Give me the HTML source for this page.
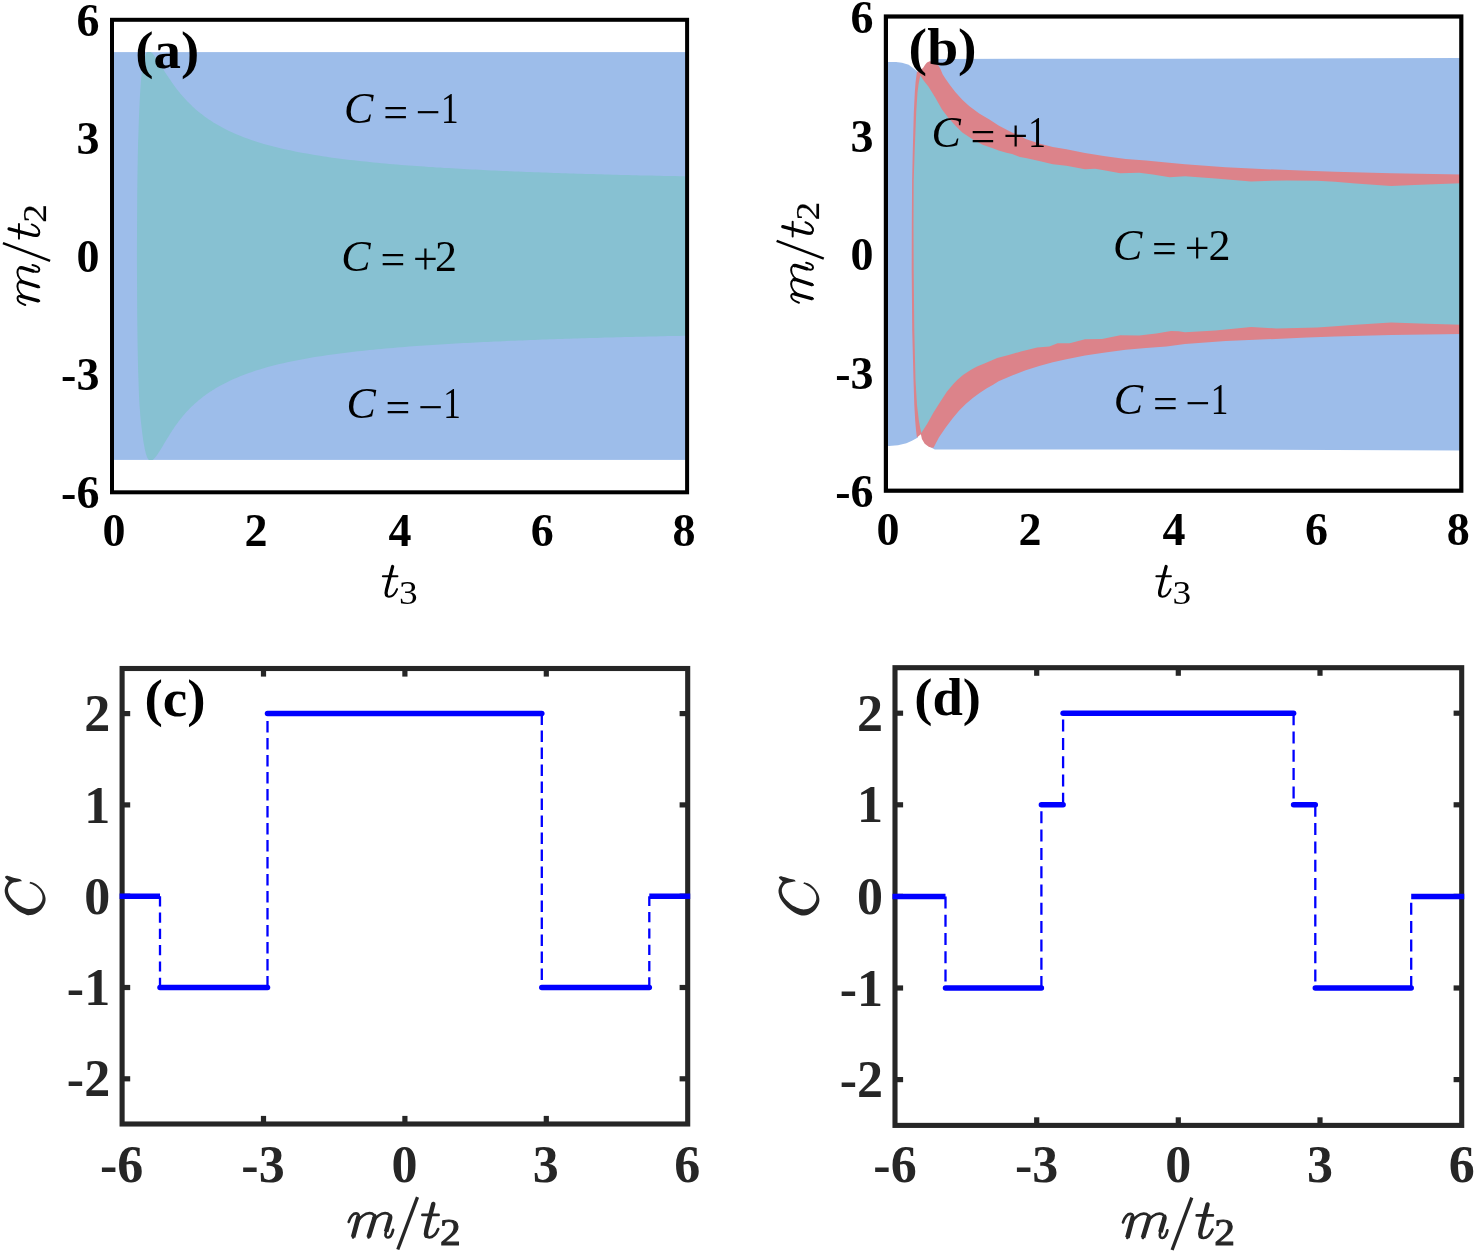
<!DOCTYPE html>
<html><head><meta charset="utf-8"><title>Figure</title>
<style>
html,body{margin:0;padding:0;background:#fff;}
body{width:1475px;height:1254px;overflow:hidden;}
svg{display:block;will-change:transform;filter:blur(0.45px);}
svg text{font-family:"Liberation Serif",serif;}
</style></head><body>
<svg width="1475" height="1254" viewBox="0 0 1475 1254">
<rect width="1475" height="1254" fill="#fff"/>
<rect x="112.0" y="52.1" width="575.1" height="407.8" fill="#9dbdea"/>
<polygon points="136.9,256.1 137.2,195.5 137.5,172.2 137.8,155.4 138.1,142.1 138.5,131.1 138.8,121.8 139.1,113.8 139.4,106.8 139.7,100.6 140.0,95.1 140.3,90.3 140.6,86.0 140.9,82.1 141.2,78.6 141.5,75.5 141.8,72.7 142.1,70.1 142.4,67.8 142.7,65.8 143.1,63.9 143.4,62.3 143.7,60.8 144.0,59.5 144.3,58.3 144.6,57.2 144.9,56.3 145.2,55.4 145.5,54.7 145.8,54.1 146.1,53.5 146.4,53.0 146.7,52.6 147.0,52.3 147.3,52.1 147.7,52.1 148.0,52.1 148.3,52.1 148.6,52.1 148.9,52.1 149.8,52.1 150.7,52.1 151.6,52.7 152.5,53.6 153.4,54.6 154.3,55.7 155.2,56.9 156.1,58.2 157.1,59.5 158.0,60.9 158.9,62.3 159.8,63.7 160.7,65.2 161.6,66.6 162.5,68.1 163.4,69.5 164.3,71.0 165.2,72.4 166.1,73.8 167.0,75.2 168.0,76.6 168.9,78.0 169.8,79.3 170.7,80.6 171.6,82.0 172.5,83.2 173.4,84.5 174.3,85.8 175.2,87.0 176.1,88.2 177.0,89.4 177.9,90.5 178.9,91.7 179.8,92.8 180.7,93.9 181.6,94.9 182.5,96.0 183.4,97.0 184.3,98.0 185.2,99.0 186.1,100.0 187.0,101.0 187.9,101.9 188.9,102.8 189.8,103.8 190.7,104.6 191.6,105.5 192.5,106.4 193.4,107.2 194.3,108.0 195.2,108.9 196.1,109.7 197.0,110.4 197.9,111.2 198.8,112.0 199.8,112.7 200.7,113.4 201.6,114.1 202.5,114.8 203.4,115.5 204.3,116.2 205.2,116.9 206.1,117.5 207.0,118.2 207.9,118.8 208.8,119.4 209.7,120.0 210.7,120.6 211.6,121.2 212.5,121.8 213.4,122.4 214.3,122.9 215.2,123.5 216.1,124.0 217.0,124.6 217.9,125.1 218.8,125.6 219.7,126.1 220.6,126.6 224.6,128.7 228.5,130.7 232.4,132.5 236.3,134.2 240.2,135.8 244.2,137.4 248.1,138.8 252.0,140.2 255.9,141.5 259.8,142.7 263.8,143.9 267.7,145.0 271.6,146.0 275.5,147.0 279.4,148.0 283.4,148.9 287.3,149.8 291.2,150.6 295.1,151.4 299.0,152.2 303.0,152.9 306.9,153.6 310.8,154.3 314.7,155.0 318.6,155.6 322.6,156.2 326.5,156.8 330.4,157.4 334.3,157.9 338.2,158.4 342.2,158.9 346.1,159.4 350.0,159.9 353.9,160.3 357.8,160.8 361.8,161.2 365.7,161.6 369.6,162.0 373.5,162.4 377.4,162.8 381.4,163.2 385.3,163.5 389.2,163.9 393.1,164.2 397.0,164.5 401.0,164.9 404.9,165.2 408.8,165.5 412.7,165.8 416.6,166.1 420.6,166.3 424.5,166.6 428.4,166.9 432.3,167.1 436.2,167.4 440.2,167.6 444.1,167.9 448.0,168.1 451.9,168.3 455.8,168.6 459.8,168.8 463.7,169.0 467.6,169.2 471.5,169.4 475.4,169.6 479.4,169.8 483.3,170.0 487.2,170.2 491.1,170.4 495.0,170.6 498.9,170.7 502.9,170.9 506.8,171.1 510.7,171.3 514.6,171.4 518.5,171.6 522.5,171.7 526.4,171.9 530.3,172.0 534.2,172.2 538.1,172.3 542.1,172.5 546.0,172.6 549.9,172.8 553.8,172.9 557.7,173.0 561.7,173.2 565.6,173.3 569.5,173.4 573.4,173.5 577.3,173.7 581.3,173.8 585.2,173.9 589.1,174.0 593.0,174.1 596.9,174.2 600.9,174.3 604.8,174.5 608.7,174.6 612.6,174.7 616.5,174.8 620.5,174.9 624.4,175.0 628.3,175.1 632.2,175.2 636.1,175.3 640.1,175.4 644.0,175.4 647.9,175.5 651.8,175.6 655.7,175.7 659.7,175.8 663.6,175.9 667.5,176.0 671.4,176.1 675.3,176.1 679.3,176.2 683.2,176.3 687.1,176.4 687.1,335.7 683.2,335.8 679.3,335.9 675.3,336.0 671.4,336.0 667.5,336.1 663.6,336.2 659.7,336.3 655.7,336.4 651.8,336.5 647.9,336.6 644.0,336.7 640.1,336.7 636.1,336.8 632.2,336.9 628.3,337.0 624.4,337.1 620.5,337.2 616.5,337.3 612.6,337.4 608.7,337.5 604.8,337.6 600.9,337.8 596.9,337.9 593.0,338.0 589.1,338.1 585.2,338.2 581.3,338.3 577.3,338.4 573.4,338.6 569.5,338.7 565.6,338.8 561.7,338.9 557.7,339.1 553.8,339.2 549.9,339.3 546.0,339.5 542.1,339.6 538.1,339.8 534.2,339.9 530.3,340.1 526.4,340.2 522.5,340.4 518.5,340.5 514.6,340.7 510.7,340.8 506.8,341.0 502.9,341.2 498.9,341.4 495.0,341.5 491.1,341.7 487.2,341.9 483.3,342.1 479.4,342.3 475.4,342.5 471.5,342.7 467.6,342.9 463.7,343.1 459.8,343.3 455.8,343.5 451.9,343.8 448.0,344.0 444.1,344.2 440.2,344.5 436.2,344.7 432.3,345.0 428.4,345.2 424.5,345.5 420.6,345.8 416.6,346.0 412.7,346.3 408.8,346.6 404.9,346.9 401.0,347.2 397.0,347.6 393.1,347.9 389.2,348.2 385.3,348.6 381.4,348.9 377.4,349.3 373.5,349.7 369.6,350.1 365.7,350.5 361.8,350.9 357.8,351.3 353.9,351.8 350.0,352.2 346.1,352.7 342.2,353.2 338.2,353.7 334.3,354.2 330.4,354.7 326.5,355.3 322.6,355.9 318.6,356.5 314.7,357.1 310.8,357.8 306.9,358.5 303.0,359.2 299.0,359.9 295.1,360.7 291.2,361.5 287.3,362.3 283.4,363.2 279.4,364.1 275.5,365.1 271.6,366.1 267.7,367.1 263.8,368.2 259.8,369.4 255.9,370.6 252.0,371.9 248.1,373.3 244.2,374.7 240.2,376.3 236.3,377.9 232.4,379.6 228.5,381.4 224.6,383.4 220.6,385.5 219.7,386.0 218.8,386.5 217.9,387.0 217.0,387.5 216.1,388.1 215.2,388.6 214.3,389.2 213.4,389.7 212.5,390.3 211.6,390.9 210.7,391.5 209.7,392.1 208.8,392.7 207.9,393.3 207.0,393.9 206.1,394.6 205.2,395.2 204.3,395.9 203.4,396.6 202.5,397.3 201.6,398.0 200.7,398.7 199.8,399.4 198.9,400.1 198.0,400.9 197.1,401.7 196.2,402.4 195.3,403.2 194.4,404.1 193.5,404.9 192.6,405.7 191.7,406.6 190.8,407.5 189.9,408.3 189.1,409.3 188.2,410.2 187.3,411.1 186.4,412.1 185.5,413.1 184.7,414.1 183.8,415.1 182.9,416.1 182.0,417.2 181.2,418.2 180.3,419.3 179.4,420.4 178.6,421.6 177.7,422.7 176.8,423.9 176.0,425.1 175.1,426.3 174.3,427.6 173.4,428.9 172.5,430.1 171.7,431.5 170.8,432.8 170.0,434.1 169.1,435.5 168.3,436.9 167.4,438.3 166.5,439.7 165.7,441.1 164.8,442.6 163.9,444.0 163.1,445.5 162.2,446.9 161.3,448.4 160.5,449.8 159.6,451.2 158.7,452.6 157.8,453.9 156.9,455.2 156.0,456.4 155.1,457.5 154.2,458.5 153.3,459.4 152.4,460.0 151.5,460.0 150.6,460.0 150.3,460.0 150.0,460.0 149.7,460.0 149.4,460.0 149.0,460.0 148.7,459.8 148.4,459.5 148.1,459.1 147.8,458.6 147.5,458.0 147.2,457.4 146.9,456.7 146.6,455.8 146.3,454.9 145.9,453.8 145.6,452.6 145.3,451.3 144.9,449.8 144.6,448.2 144.3,446.3 143.9,444.3 143.5,442.0 143.1,439.4 142.7,436.6 142.3,433.5 141.9,430.0 141.4,426.1 140.9,421.8 140.4,417.0 140.0,411.5 139.5,405.3 139.1,398.3 138.8,390.3 138.5,381.0 138.1,370.0 137.8,356.7 137.5,339.9 137.2,316.6 136.9,256.1" fill="#87c1d2"/>
<rect x="112.0" y="19.8" width="575.1" height="472.5" fill="none" stroke="#000" stroke-width="4"/>
<polygon points="885.9,61.9 896.0,62.0 902.0,62.8 908.7,64.7 913.0,68.0 917.9,72.1 916.6,82.0 915.8,92.5 914.8,112.8 913.8,150.0 913.1,181.0 912.8,225.0 912.7,270.0 913.2,330.0 914.5,380.0 915.3,405.0 916.2,420.7 917.0,430.0 917.9,437.6 912.0,440.8 906.4,443.2 898.0,445.3 885.9,446.3" fill="#9dbdea"/>
<polygon points="937.5,58.9 1170.0,58.7 1461.3,57.9 1461.3,450.4 1170.0,449.4 934.8,449.5 931.0,447.5 931.0,70.0" fill="#9dbdea"/>
<polygon points="916.9,72.1 920.0,70.3 923.0,68.0 925.3,64.5 927.0,62.6 929.7,61.3 933.0,61.8 937.9,64.7 940.5,69.0 942.6,74.2 946.0,79.5 950.1,85.3 955.5,92.2 962.3,99.8 969.1,106.0 979.2,113.5 989.4,119.6 999.0,125.8 1012.0,132.4 1020.0,135.8 1025.7,139.0 1039.2,143.5 1052.8,146.9 1066.4,149.2 1085.0,152.9 1105.3,156.2 1125.7,158.9 1146.0,160.6 1166.4,162.6 1185.0,164.2 1225.7,167.2 1266.4,169.2 1307.0,170.8 1335.0,171.8 1391.1,173.3 1461.3,174.6 1461.3,334.0 1391.1,335.0 1335.0,336.5 1307.0,337.5 1266.4,339.3 1225.7,341.1 1185.0,344.0 1166.4,346.4 1146.0,348.1 1125.7,349.7 1105.3,352.5 1085.0,355.5 1066.4,359.2 1052.8,362.2 1039.2,365.9 1025.7,370.3 1012.1,375.4 998.6,381.2 993.1,384.7 986.4,388.5 979.6,392.9 972.8,398.0 966.0,403.7 959.2,410.5 952.5,418.6 945.7,427.5 938.9,437.6 936.0,443.0 933.5,447.8 931.0,447.6 928.7,446.8 924.7,443.7 921.9,439.0 920.9,434.2 916.9,437.6 916.9,437.6 916.0,430.0 915.2,420.7 914.3,405.0 913.5,380.0 912.2,330.0 911.7,270.0 911.8,225.0 912.1,181.0 912.8,150.0 913.8,112.8 914.8,92.5 915.6,82.0 916.9,72.1" fill="#dc838a"/>
<polygon points="920.3,75.5 924.0,81.0 928.4,86.5 935.2,97.5 942.0,109.4 948.7,118.2 955.5,125.7 962.3,132.5 972.5,139.2 982.6,144.7 992.8,148.3 998.6,150.6 1006.4,152.8 1012.1,154.0 1019.9,156.9 1025.7,158.1 1039.2,161.1 1052.8,164.2 1066.4,165.8 1085.0,169.3 1095.2,168.7 1105.3,170.4 1120.3,173.3 1139.2,172.8 1152.8,174.5 1169.7,177.2 1185.0,176.2 1215.5,178.4 1251.1,181.4 1286.7,180.4 1317.2,180.7 1335.0,181.8 1355.5,183.5 1391.1,186.0 1426.7,184.5 1461.3,183.2 1461.3,324.8 1426.7,323.8 1391.1,322.6 1355.5,324.8 1335.0,326.3 1317.2,327.4 1276.5,328.4 1251.1,327.1 1215.5,330.4 1185.0,332.3 1178.6,331.3 1171.1,331.1 1156.2,333.5 1139.2,335.5 1120.3,335.2 1102.0,338.9 1085.0,339.2 1069.7,343.2 1057.5,343.2 1049.4,346.6 1037.2,347.5 1020.9,351.4 1008.7,355.1 997.2,358.1 985.0,363.2 977.0,366.5 970.6,370.0 963.0,375.0 957.2,380.0 953.8,383.4 947.0,391.5 940.3,401.7 933.5,412.5 927.4,423.4 921.3,432.9 921.3,432.9 920.2,428.0 918.9,420.7 917.0,405.0 915.5,380.0 914.3,330.0 913.7,270.0 913.5,225.0 913.7,181.0 914.7,150.0 916.2,112.8 917.5,92.5 918.6,84.0 920.3,75.5" fill="#87c1d2"/>
<rect x="885.9" y="16.5" width="575.4" height="474.2" fill="none" stroke="#000" stroke-width="4.2"/>
<line x1="263.5" y1="668.5" x2="263.5" y2="676.6" stroke="#262626" stroke-width="5.2"/>
<line x1="263.5" y1="1124.0" x2="263.5" y2="1115.9" stroke="#262626" stroke-width="5.2"/>
<line x1="404.9" y1="668.5" x2="404.9" y2="676.6" stroke="#262626" stroke-width="5.2"/>
<line x1="404.9" y1="1124.0" x2="404.9" y2="1115.9" stroke="#262626" stroke-width="5.2"/>
<line x1="546.3" y1="668.5" x2="546.3" y2="676.6" stroke="#262626" stroke-width="5.2"/>
<line x1="546.3" y1="1124.0" x2="546.3" y2="1115.9" stroke="#262626" stroke-width="5.2"/>
<line x1="122.1" y1="1078.8" x2="130.2" y2="1078.8" stroke="#262626" stroke-width="5.2"/>
<line x1="687.7" y1="1078.8" x2="679.6" y2="1078.8" stroke="#262626" stroke-width="5.2"/>
<line x1="122.1" y1="987.5" x2="130.2" y2="987.5" stroke="#262626" stroke-width="5.2"/>
<line x1="687.7" y1="987.5" x2="679.6" y2="987.5" stroke="#262626" stroke-width="5.2"/>
<line x1="122.1" y1="896.2" x2="130.2" y2="896.2" stroke="#262626" stroke-width="5.2"/>
<line x1="687.7" y1="896.2" x2="679.6" y2="896.2" stroke="#262626" stroke-width="5.2"/>
<line x1="122.1" y1="804.9" x2="130.2" y2="804.9" stroke="#262626" stroke-width="5.2"/>
<line x1="687.7" y1="804.9" x2="679.6" y2="804.9" stroke="#262626" stroke-width="5.2"/>
<line x1="122.1" y1="713.6" x2="130.2" y2="713.6" stroke="#262626" stroke-width="5.2"/>
<line x1="687.7" y1="713.6" x2="679.6" y2="713.6" stroke="#262626" stroke-width="5.2"/>
<rect x="122.1" y="668.5" width="565.6" height="455.5" fill="none" stroke="#262626" stroke-width="5.1"/>
<line x1="160.0" y1="896.2" x2="160.0" y2="987.5" stroke="#0000ff" stroke-width="2.3" stroke-dasharray="10.2 6.1"/>
<line x1="267.5" y1="987.5" x2="267.5" y2="713.6" stroke="#0000ff" stroke-width="2.3" stroke-dasharray="11.5 5.5"/>
<line x1="541.8" y1="713.6" x2="541.8" y2="987.5" stroke="#0000ff" stroke-width="2.3" stroke-dasharray="11.5 5.5"/>
<line x1="649.3" y1="987.5" x2="649.3" y2="896.2" stroke="#0000ff" stroke-width="2.3" stroke-dasharray="10.2 6.1"/>
<line x1="119.6" y1="896.2" x2="160.0" y2="896.2" stroke="#0000ff" stroke-width="5.5" stroke-linecap="butt"/>
<line x1="160.0" y1="987.5" x2="267.5" y2="987.5" stroke="#0000ff" stroke-width="5.5" stroke-linecap="round"/>
<line x1="267.5" y1="713.6" x2="541.8" y2="713.6" stroke="#0000ff" stroke-width="5.5" stroke-linecap="round"/>
<line x1="541.8" y1="987.5" x2="649.3" y2="987.5" stroke="#0000ff" stroke-width="5.5" stroke-linecap="round"/>
<line x1="649.3" y1="896.2" x2="690.2" y2="896.2" stroke="#0000ff" stroke-width="5.5" stroke-linecap="butt"/>
<line x1="1036.7" y1="667.7" x2="1036.7" y2="675.8000000000001" stroke="#262626" stroke-width="5.2"/>
<line x1="1036.7" y1="1125.4" x2="1036.7" y2="1117.3000000000002" stroke="#262626" stroke-width="5.2"/>
<line x1="1178.3" y1="667.7" x2="1178.3" y2="675.8000000000001" stroke="#262626" stroke-width="5.2"/>
<line x1="1178.3" y1="1125.4" x2="1178.3" y2="1117.3000000000002" stroke="#262626" stroke-width="5.2"/>
<line x1="1320.0" y1="667.7" x2="1320.0" y2="675.8000000000001" stroke="#262626" stroke-width="5.2"/>
<line x1="1320.0" y1="1125.4" x2="1320.0" y2="1117.3000000000002" stroke="#262626" stroke-width="5.2"/>
<line x1="895.0" y1="1079.6" x2="903.1" y2="1079.6" stroke="#262626" stroke-width="5.2"/>
<line x1="1461.7" y1="1079.6" x2="1453.6000000000001" y2="1079.6" stroke="#262626" stroke-width="5.2"/>
<line x1="895.0" y1="988.0" x2="903.1" y2="988.0" stroke="#262626" stroke-width="5.2"/>
<line x1="1461.7" y1="988.0" x2="1453.6000000000001" y2="988.0" stroke="#262626" stroke-width="5.2"/>
<line x1="895.0" y1="896.4" x2="903.1" y2="896.4" stroke="#262626" stroke-width="5.2"/>
<line x1="1461.7" y1="896.4" x2="1453.6000000000001" y2="896.4" stroke="#262626" stroke-width="5.2"/>
<line x1="895.0" y1="804.8" x2="903.1" y2="804.8" stroke="#262626" stroke-width="5.2"/>
<line x1="1461.7" y1="804.8" x2="1453.6000000000001" y2="804.8" stroke="#262626" stroke-width="5.2"/>
<line x1="895.0" y1="713.2" x2="903.1" y2="713.2" stroke="#262626" stroke-width="5.2"/>
<line x1="1461.7" y1="713.2" x2="1453.6000000000001" y2="713.2" stroke="#262626" stroke-width="5.2"/>
<rect x="895.0" y="667.7" width="566.7" height="457.70000000000005" fill="none" stroke="#262626" stroke-width="5.1"/>
<line x1="945.5" y1="896.4" x2="945.5" y2="988.0" stroke="#0000ff" stroke-width="2.3" stroke-dasharray="12 6.3"/>
<line x1="1041.4" y1="988.0" x2="1041.4" y2="804.8" stroke="#0000ff" stroke-width="2.3" stroke-dasharray="12 6.3"/>
<line x1="1063.1" y1="804.8" x2="1063.1" y2="713.2" stroke="#0000ff" stroke-width="2.3" stroke-dasharray="12 6.3"/>
<line x1="1293.6" y1="713.2" x2="1293.6" y2="804.8" stroke="#0000ff" stroke-width="2.3" stroke-dasharray="12 6.3"/>
<line x1="1315.3" y1="804.8" x2="1315.3" y2="988.0" stroke="#0000ff" stroke-width="2.3" stroke-dasharray="12 6.3"/>
<line x1="1411.2" y1="988.0" x2="1411.2" y2="896.4" stroke="#0000ff" stroke-width="2.3" stroke-dasharray="12 6.3"/>
<line x1="892.5" y1="896.4" x2="945.5" y2="896.4" stroke="#0000ff" stroke-width="5.5" stroke-linecap="butt"/>
<line x1="945.5" y1="988.0" x2="1041.4" y2="988.0" stroke="#0000ff" stroke-width="5.5" stroke-linecap="round"/>
<line x1="1041.4" y1="804.8" x2="1063.1" y2="804.8" stroke="#0000ff" stroke-width="5.5" stroke-linecap="round"/>
<line x1="1063.1" y1="713.2" x2="1293.6" y2="713.2" stroke="#0000ff" stroke-width="5.5" stroke-linecap="round"/>
<line x1="1293.6" y1="804.8" x2="1315.3" y2="804.8" stroke="#0000ff" stroke-width="5.5" stroke-linecap="round"/>
<line x1="1315.3" y1="988.0" x2="1411.2" y2="988.0" stroke="#0000ff" stroke-width="5.5" stroke-linecap="round"/>
<line x1="1411.2" y1="896.4" x2="1464.2" y2="896.4" stroke="#0000ff" stroke-width="5.5" stroke-linecap="butt"/>
<text x="99.4" y="35.7" font-size="46" font-weight="bold" font-style="normal" text-anchor="end" fill="#000" >6</text>
<text x="873.5" y="33.0" font-size="46" font-weight="bold" font-style="normal" text-anchor="end" fill="#000" >6</text>
<text x="99.4" y="153.8" font-size="46" font-weight="bold" font-style="normal" text-anchor="end" fill="#000" >3</text>
<text x="873.5" y="151.5" font-size="46" font-weight="bold" font-style="normal" text-anchor="end" fill="#000" >3</text>
<text x="99.4" y="271.9" font-size="46" font-weight="bold" font-style="normal" text-anchor="end" fill="#000" >0</text>
<text x="873.5" y="270.1" font-size="46" font-weight="bold" font-style="normal" text-anchor="end" fill="#000" >0</text>
<text x="99.4" y="390.1" font-size="46" font-weight="bold" font-style="normal" text-anchor="end" fill="#000" >-3</text>
<text x="873.5" y="388.7" font-size="46" font-weight="bold" font-style="normal" text-anchor="end" fill="#000" >-3</text>
<text x="99.4" y="508.2" font-size="46" font-weight="bold" font-style="normal" text-anchor="end" fill="#000" >-6</text>
<text x="873.5" y="507.2" font-size="46" font-weight="bold" font-style="normal" text-anchor="end" fill="#000" >-6</text>
<text x="114.0" y="545.6" font-size="46" font-weight="bold" font-style="normal" text-anchor="middle" fill="#000" >0</text>
<text x="887.9" y="544.5" font-size="46" font-weight="bold" font-style="normal" text-anchor="middle" fill="#000" >0</text>
<text x="256.1" y="545.6" font-size="46" font-weight="bold" font-style="normal" text-anchor="middle" fill="#000" >2</text>
<text x="1030.0" y="544.5" font-size="46" font-weight="bold" font-style="normal" text-anchor="middle" fill="#000" >2</text>
<text x="399.9" y="545.6" font-size="46" font-weight="bold" font-style="normal" text-anchor="middle" fill="#000" >4</text>
<text x="1173.9" y="544.5" font-size="46" font-weight="bold" font-style="normal" text-anchor="middle" fill="#000" >4</text>
<text x="542.3" y="545.6" font-size="46" font-weight="bold" font-style="normal" text-anchor="middle" fill="#000" >6</text>
<text x="1316.4" y="544.5" font-size="46" font-weight="bold" font-style="normal" text-anchor="middle" fill="#000" >6</text>
<text x="684.1" y="545.6" font-size="46" font-weight="bold" font-style="normal" text-anchor="middle" fill="#000" >8</text>
<text x="1458.3" y="544.5" font-size="46" font-weight="bold" font-style="normal" text-anchor="middle" fill="#000" >8</text>
<text transform="translate(135.3,68.4) scale(1.035,1)" font-size="53" font-weight="bold" fill="#000">(a)</text>
<text transform="translate(908.6,65.4) scale(1.05,1)" font-size="53" font-weight="bold" fill="#000">(b)</text>
<text transform="translate(144.4,716.2) scale(1.06,1)" font-size="52" font-weight="bold" fill="#000">(c)</text>
<text transform="translate(914.3,714.6) scale(1.05,1)" font-size="52" font-weight="bold" fill="#000">(d)</text>
<text font-size="44" fill="#000"><tspan x="344.0" y="122.9" font-style="italic">C</tspan><tspan x="383.2" y="126.7">=</tspan><tspan x="415.8" y="126.7">−</tspan></text>
<text transform="translate(450.2,122.9) scale(0.8,1)" x="-11.62" y="0" font-size="44" fill="#000">1</text>
<text font-size="44" fill="#000"><tspan x="341.2" y="270.5" font-style="italic">C</tspan><tspan x="380.4" y="274.3">=</tspan><tspan x="413.0" y="274.3">+</tspan></text>
<text x="435.1" y="270.5" font-size="44" fill="#000">2</text>
<text font-size="44" fill="#000"><tspan x="346.4" y="418.2" font-style="italic">C</tspan><tspan x="385.6" y="422.0">=</tspan><tspan x="418.2" y="422.0">−</tspan></text>
<text transform="translate(452.6,418.2) scale(0.8,1)" x="-11.62" y="0" font-size="44" fill="#000">1</text>
<text font-size="44" fill="#000"><tspan x="931.4" y="147.2" font-style="italic">C</tspan><tspan x="970.6" y="151.0">=</tspan><tspan x="1003.2" y="151.0">+</tspan></text>
<text transform="translate(1037.6,147.2) scale(0.8,1)" x="-11.62" y="0" font-size="44" fill="#000">1</text>
<text font-size="44" fill="#000"><tspan x="1112.9" y="259.6" font-style="italic">C</tspan><tspan x="1152.1" y="263.4">=</tspan><tspan x="1184.7" y="263.4">+</tspan></text>
<text x="1208.4" y="259.6" font-size="44" fill="#000">2</text>
<text font-size="44" fill="#000"><tspan x="1113.8" y="414.4" font-style="italic">C</tspan><tspan x="1153.0" y="418.2">=</tspan><tspan x="1185.6" y="418.2">−</tspan></text>
<text transform="translate(1220.0,414.4) scale(0.8,1)" x="-11.62" y="0" font-size="44" fill="#000">1</text>
<text x="110.2" y="1096.4" font-size="52" font-weight="bold" font-style="normal" text-anchor="end" fill="#262626" >-2</text>
<text x="883.0" y="1097.2" font-size="52" font-weight="bold" font-style="normal" text-anchor="end" fill="#262626" >-2</text>
<text x="110.2" y="1005.1" font-size="52" font-weight="bold" font-style="normal" text-anchor="end" fill="#262626" >-1</text>
<text x="883.0" y="1005.6" font-size="52" font-weight="bold" font-style="normal" text-anchor="end" fill="#262626" >-1</text>
<text x="110.2" y="913.8" font-size="52" font-weight="bold" font-style="normal" text-anchor="end" fill="#262626" >0</text>
<text x="883.0" y="914.0" font-size="52" font-weight="bold" font-style="normal" text-anchor="end" fill="#262626" >0</text>
<text x="110.2" y="822.5" font-size="52" font-weight="bold" font-style="normal" text-anchor="end" fill="#262626" >1</text>
<text x="883.0" y="822.4" font-size="52" font-weight="bold" font-style="normal" text-anchor="end" fill="#262626" >1</text>
<text x="110.2" y="731.2" font-size="52" font-weight="bold" font-style="normal" text-anchor="end" fill="#262626" >2</text>
<text x="883.0" y="730.8" font-size="52" font-weight="bold" font-style="normal" text-anchor="end" fill="#262626" >2</text>
<text x="121.6" y="1182.3" font-size="52" font-weight="bold" font-style="normal" text-anchor="middle" fill="#262626" >-6</text>
<text x="895.0" y="1182.3" font-size="52" font-weight="bold" font-style="normal" text-anchor="middle" fill="#262626" >-6</text>
<text x="263.0" y="1182.3" font-size="52" font-weight="bold" font-style="normal" text-anchor="middle" fill="#262626" >-3</text>
<text x="1036.7" y="1182.3" font-size="52" font-weight="bold" font-style="normal" text-anchor="middle" fill="#262626" >-3</text>
<text x="404.4" y="1182.3" font-size="52" font-weight="bold" font-style="normal" text-anchor="middle" fill="#262626" >0</text>
<text x="1178.3" y="1182.3" font-size="52" font-weight="bold" font-style="normal" text-anchor="middle" fill="#262626" >0</text>
<text x="545.8" y="1182.3" font-size="52" font-weight="bold" font-style="normal" text-anchor="middle" fill="#262626" >3</text>
<text x="1320.0" y="1182.3" font-size="52" font-weight="bold" font-style="normal" text-anchor="middle" fill="#262626" >3</text>
<text x="687.2" y="1182.3" font-size="52" font-weight="bold" font-style="normal" text-anchor="middle" fill="#262626" >6</text>
<text x="1461.7" y="1182.3" font-size="52" font-weight="bold" font-style="normal" text-anchor="middle" fill="#262626" >6</text>
<g transform="translate(40.2,305.5) rotate(-90)" fill="#000">
<path d="M0.54,-14.94 C1.98,-19.35 4.50,-22.68 7.20,-22.68 C9.27,-22.68 9.90,-21.06 9.36,-18.90 L4.50,-0.90 M8.37,-14.94 C10.80,-19.35 15.30,-22.77 19.26,-22.77 C22.68,-22.77 24.21,-20.88 23.40,-17.82 L18.36,-0.90 M22.41,-14.94 C24.84,-19.35 29.34,-22.77 33.30,-22.77 C36.72,-22.77 38.25,-20.88 37.44,-17.82 L34.02,-5.85 C33.03,-2.34 34.11,-0.90 35.91,-0.90 C37.98,-0.90 39.60,-3.78 40.50,-7.74" fill="none" stroke="#000" stroke-width="1.98" stroke-linecap="round" stroke-linejoin="round"/><path d="M9.63,-20.34 L4.50,-1.26 M23.04,-20.70 C23.94,-19.80 23.94,-18.90 23.58,-17.64 L18.54,-1.26 M37.08,-20.70 C37.98,-19.80 37.98,-18.90 37.62,-17.64 L34.20,-6.12" fill="none" stroke="#000" stroke-width="3.42" stroke-linecap="butt" stroke-linejoin="round"/>
<line x1="44.73" y1="9.90" x2="62.46" y2="-37.26" stroke="#000" stroke-width="2.43" stroke-linecap="butt"/>
<path d="M76.32,-30.06 L70.29,-7.38 C69.21,-3.24 70.47,-0.90 72.99,-0.90 C76.05,-0.90 79.29,-3.96 81.09,-8.46 M66.87,-21.24 L81.45,-21.24" fill="none" stroke="#000" stroke-width="1.98" stroke-linecap="round" stroke-linejoin="round"/><path d="M76.68,-31.14 L70.47,-7.56 C69.93,-5.40 69.93,-3.60 70.47,-2.52" fill="none" stroke="#000" stroke-width="3.24" stroke-linecap="round" stroke-linejoin="round"/>
<text x="76.65" y="5.49" font-size="34.56" transform="scale(1.08,1)" stroke="#000" stroke-width="0.15">2</text>
</g>
<g transform="translate(813.9,303.3) rotate(-90)" fill="#000">
<path d="M0.54,-14.94 C1.98,-19.35 4.50,-22.68 7.20,-22.68 C9.27,-22.68 9.90,-21.06 9.36,-18.90 L4.50,-0.90 M8.37,-14.94 C10.80,-19.35 15.30,-22.77 19.26,-22.77 C22.68,-22.77 24.21,-20.88 23.40,-17.82 L18.36,-0.90 M22.41,-14.94 C24.84,-19.35 29.34,-22.77 33.30,-22.77 C36.72,-22.77 38.25,-20.88 37.44,-17.82 L34.02,-5.85 C33.03,-2.34 34.11,-0.90 35.91,-0.90 C37.98,-0.90 39.60,-3.78 40.50,-7.74" fill="none" stroke="#000" stroke-width="1.98" stroke-linecap="round" stroke-linejoin="round"/><path d="M9.63,-20.34 L4.50,-1.26 M23.04,-20.70 C23.94,-19.80 23.94,-18.90 23.58,-17.64 L18.54,-1.26 M37.08,-20.70 C37.98,-19.80 37.98,-18.90 37.62,-17.64 L34.20,-6.12" fill="none" stroke="#000" stroke-width="3.42" stroke-linecap="butt" stroke-linejoin="round"/>
<line x1="44.73" y1="9.90" x2="62.46" y2="-37.26" stroke="#000" stroke-width="2.43" stroke-linecap="butt"/>
<path d="M76.32,-30.06 L70.29,-7.38 C69.21,-3.24 70.47,-0.90 72.99,-0.90 C76.05,-0.90 79.29,-3.96 81.09,-8.46 M66.87,-21.24 L81.45,-21.24" fill="none" stroke="#000" stroke-width="1.98" stroke-linecap="round" stroke-linejoin="round"/><path d="M76.68,-31.14 L70.47,-7.56 C69.93,-5.40 69.93,-3.60 70.47,-2.52" fill="none" stroke="#000" stroke-width="3.24" stroke-linecap="round" stroke-linejoin="round"/>
<text x="76.65" y="5.49" font-size="34.56" transform="scale(1.08,1)" stroke="#000" stroke-width="0.15">2</text>
</g>
<g transform="translate(382.5,597.6)" fill="#000">
<path d="M9.81,-30.06 L3.78,-7.38 C2.70,-3.24 3.96,-0.90 6.48,-0.90 C9.54,-0.90 12.78,-3.96 14.58,-8.46 M0.36,-21.24 L14.94,-21.24" fill="none" stroke="#000" stroke-width="1.98" stroke-linecap="round" stroke-linejoin="round"/><path d="M10.17,-31.14 L3.96,-7.56 C3.42,-5.40 3.42,-3.60 3.96,-2.52" fill="none" stroke="#000" stroke-width="3.24" stroke-linecap="round" stroke-linejoin="round"/>
<text x="15.27" y="6.66" font-size="34.56" transform="scale(1.08,1)">3</text>
</g>
<g transform="translate(1156,597.6)" fill="#000">
<path d="M9.81,-30.06 L3.78,-7.38 C2.70,-3.24 3.96,-0.90 6.48,-0.90 C9.54,-0.90 12.78,-3.96 14.58,-8.46 M0.36,-21.24 L14.94,-21.24" fill="none" stroke="#000" stroke-width="1.98" stroke-linecap="round" stroke-linejoin="round"/><path d="M10.17,-31.14 L3.96,-7.56 C3.42,-5.40 3.42,-3.60 3.96,-2.52" fill="none" stroke="#000" stroke-width="3.24" stroke-linecap="round" stroke-linejoin="round"/>
<text x="15.27" y="6.66" font-size="34.56" transform="scale(1.08,1)">3</text>
</g>
<g transform="translate(348.1,1238.5)" fill="#262626">
<path d="M0.60,-16.60 C2.20,-21.50 5.00,-25.20 8.00,-25.20 C10.30,-25.20 11.00,-23.40 10.40,-21.00 L5.00,-1.00 M9.30,-16.60 C12.00,-21.50 17.00,-25.30 21.40,-25.30 C25.20,-25.30 26.90,-23.20 26.00,-19.80 L20.40,-1.00 M24.90,-16.60 C27.60,-21.50 32.60,-25.30 37.00,-25.30 C40.80,-25.30 42.50,-23.20 41.60,-19.80 L37.80,-6.50 C36.70,-2.60 37.90,-1.00 39.90,-1.00 C42.20,-1.00 44.00,-4.20 45.00,-8.60" fill="none" stroke="#262626" stroke-width="2.68" stroke-linecap="round" stroke-linejoin="round"/><path d="M10.70,-22.60 L5.00,-1.40 M25.60,-23.00 C26.60,-22.00 26.60,-21.00 26.20,-19.60 L20.60,-1.40 M41.20,-23.00 C42.20,-22.00 42.20,-21.00 41.80,-19.60 L38.00,-6.80" fill="none" stroke="#262626" stroke-width="4.64" stroke-linecap="butt" stroke-linejoin="round"/>
<line x1="49.70" y1="11.00" x2="69.40" y2="-41.40" stroke="#262626" stroke-width="3.29" stroke-linecap="butt"/>
<path d="M84.80,-33.40 L78.10,-8.20 C76.90,-3.60 78.30,-1.00 81.10,-1.00 C84.50,-1.00 88.10,-4.40 90.10,-9.40 M74.30,-23.60 L90.50,-23.60" fill="none" stroke="#262626" stroke-width="2.68" stroke-linecap="round" stroke-linejoin="round"/><path d="M85.20,-34.60 L78.30,-8.40 C77.70,-6.00 77.70,-4.00 78.30,-2.80" fill="none" stroke="#262626" stroke-width="4.39" stroke-linecap="round" stroke-linejoin="round"/>
<text x="85.16" y="6.10" font-size="38.40" transform="scale(1.08,1)" stroke="#262626" stroke-width="1.05">2</text>
</g>
<g transform="translate(1122.4,1239.0)" fill="#262626">
<path d="M0.60,-16.60 C2.20,-21.50 5.00,-25.20 8.00,-25.20 C10.30,-25.20 11.00,-23.40 10.40,-21.00 L5.00,-1.00 M9.30,-16.60 C12.00,-21.50 17.00,-25.30 21.40,-25.30 C25.20,-25.30 26.90,-23.20 26.00,-19.80 L20.40,-1.00 M24.90,-16.60 C27.60,-21.50 32.60,-25.30 37.00,-25.30 C40.80,-25.30 42.50,-23.20 41.60,-19.80 L37.80,-6.50 C36.70,-2.60 37.90,-1.00 39.90,-1.00 C42.20,-1.00 44.00,-4.20 45.00,-8.60" fill="none" stroke="#262626" stroke-width="2.68" stroke-linecap="round" stroke-linejoin="round"/><path d="M10.70,-22.60 L5.00,-1.40 M25.60,-23.00 C26.60,-22.00 26.60,-21.00 26.20,-19.60 L20.60,-1.40 M41.20,-23.00 C42.20,-22.00 42.20,-21.00 41.80,-19.60 L38.00,-6.80" fill="none" stroke="#262626" stroke-width="4.64" stroke-linecap="butt" stroke-linejoin="round"/>
<line x1="49.70" y1="11.00" x2="69.40" y2="-41.40" stroke="#262626" stroke-width="3.29" stroke-linecap="butt"/>
<path d="M84.80,-33.40 L78.10,-8.20 C76.90,-3.60 78.30,-1.00 81.10,-1.00 C84.50,-1.00 88.10,-4.40 90.10,-9.40 M74.30,-23.60 L90.50,-23.60" fill="none" stroke="#262626" stroke-width="2.68" stroke-linecap="round" stroke-linejoin="round"/><path d="M85.20,-34.60 L78.30,-8.40 C77.70,-6.00 77.70,-4.00 78.30,-2.80" fill="none" stroke="#262626" stroke-width="4.39" stroke-linecap="round" stroke-linejoin="round"/>
<text x="85.16" y="6.10" font-size="38.40" transform="scale(1.08,1)" stroke="#262626" stroke-width="1.05">2</text>
</g>
<path d="M4.91,877.16C5.21,876.93 5.66,875.85 6.70,875.82C7.74,875.78 9.68,876.52 11.17,876.93C12.65,877.34 14.07,877.86 15.63,878.27C17.20,878.68 19.50,878.91 20.54,879.39C21.59,879.87 21.66,880.88 21.88,881.18L21.88,881.18C21.44,881.21 20.47,881.21 19.21,881.40C17.94,881.58 15.56,881.96 14.29,882.29C13.03,882.63 12.43,882.81 11.61,883.41C10.79,884.00 9.97,884.93 9.38,885.87C8.78,886.80 8.19,887.80 8.04,888.99C7.89,890.18 8.11,891.67 8.49,893.01C8.86,894.35 9.45,895.77 10.27,897.03C11.09,898.30 12.28,899.49 13.40,900.60C14.52,901.72 15.63,902.76 16.97,903.73C18.31,904.70 19.80,905.59 21.44,906.41C23.08,907.23 25.01,908.23 26.80,908.64C28.58,909.05 30.52,909.09 32.16,908.87C33.79,908.64 35.28,908.08 36.62,907.30C37.96,906.52 39.27,905.37 40.20,904.18C41.13,902.99 41.83,901.42 42.21,900.16C42.58,898.89 42.54,897.78 42.43,896.58C42.32,895.39 42.06,894.20 41.54,893.01C41.02,891.82 40.27,890.55 39.30,889.44C38.34,888.32 36.92,887.17 35.73,886.31C34.54,885.46 33.20,884.82 32.16,884.30C31.12,883.78 29.92,883.37 29.48,883.19L29.48,883.19C29.63,882.96 30.22,882.07 30.37,881.85L30.37,881.85C30.97,882.03 32.68,882.37 33.94,882.96C35.21,883.56 36.70,884.41 37.96,885.42C39.23,886.42 40.49,887.65 41.54,888.99C42.58,890.33 43.55,891.89 44.22,893.46C44.89,895.02 45.41,896.81 45.56,898.37C45.70,899.93 45.56,901.35 45.11,902.84C44.66,904.33 43.84,905.89 42.88,907.30C41.91,908.72 40.64,910.21 39.30,911.32C37.96,912.44 36.33,913.37 34.84,914.00C33.35,914.64 31.71,914.97 30.37,915.12C29.03,915.27 28.14,915.23 26.80,914.90C25.46,914.56 23.82,913.85 22.33,913.11C20.84,912.37 19.35,911.47 17.87,910.43C16.38,909.39 14.74,908.12 13.40,906.86C12.06,905.59 10.94,904.25 9.83,902.84C8.71,901.42 7.48,899.86 6.70,898.37C5.92,896.88 5.47,895.32 5.14,893.90C4.80,892.49 4.58,891.22 4.69,889.88C4.80,888.54 5.32,887.06 5.81,885.87C6.29,884.67 7.07,883.56 7.59,882.74C8.11,881.92 8.71,881.25 8.93,880.95L8.93,880.95C8.56,880.65 7.37,879.80 6.70,879.17C6.03,878.53 5.21,877.49 4.91,877.16Z" fill="#262626"/>
<path d="M778.71,877.56C779.01,877.33 779.46,876.25 780.50,876.22C781.54,876.18 783.48,876.92 784.97,877.33C786.45,877.74 787.87,878.26 789.43,878.67C791.00,879.08 793.30,879.31 794.34,879.79C795.39,880.27 795.46,881.28 795.68,881.58L795.68,881.58C795.24,881.61 794.27,881.61 793.01,881.80C791.74,881.98 789.36,882.36 788.09,882.69C786.83,883.03 786.23,883.21 785.41,883.81C784.59,884.40 783.77,885.33 783.18,886.27C782.58,887.20 781.99,888.20 781.84,889.39C781.69,890.58 781.91,892.07 782.29,893.41C782.66,894.75 783.25,896.17 784.07,897.43C784.89,898.70 786.08,899.89 787.20,901.00C788.32,902.12 789.43,903.16 790.77,904.13C792.11,905.10 793.60,905.99 795.24,906.81C796.88,907.63 798.81,908.63 800.60,909.04C802.38,909.45 804.32,909.49 805.96,909.27C807.59,909.04 809.08,908.48 810.42,907.70C811.76,906.92 813.07,905.77 814.00,904.58C814.93,903.39 815.63,901.82 816.01,900.56C816.38,899.29 816.34,898.18 816.23,896.98C816.12,895.79 815.86,894.60 815.34,893.41C814.82,892.22 814.07,890.95 813.10,889.84C812.14,888.72 810.72,887.57 809.53,886.71C808.34,885.86 807.00,885.22 805.96,884.70C804.92,884.18 803.72,883.77 803.28,883.59L803.28,883.59C803.43,883.36 804.02,882.47 804.17,882.25L804.17,882.25C804.77,882.43 806.48,882.77 807.74,883.36C809.01,883.96 810.50,884.81 811.76,885.82C813.03,886.82 814.29,888.05 815.34,889.39C816.38,890.73 817.35,892.29 818.02,893.86C818.69,895.42 819.21,897.21 819.36,898.77C819.50,900.33 819.36,901.75 818.91,903.24C818.46,904.73 817.64,906.29 816.68,907.70C815.71,909.12 814.44,910.61 813.10,911.72C811.76,912.84 810.13,913.77 808.64,914.40C807.15,915.04 805.51,915.37 804.17,915.52C802.83,915.67 801.94,915.63 800.60,915.30C799.26,914.96 797.62,914.25 796.13,913.51C794.64,912.77 793.15,911.87 791.67,910.83C790.18,909.79 788.54,908.52 787.20,907.26C785.86,905.99 784.74,904.65 783.63,903.24C782.51,901.82 781.28,900.26 780.50,898.77C779.72,897.28 779.27,895.72 778.94,894.30C778.60,892.89 778.38,891.62 778.49,890.28C778.60,888.94 779.12,887.46 779.61,886.27C780.09,885.07 780.87,883.96 781.39,883.14C781.91,882.32 782.51,881.65 782.73,881.35L782.73,881.35C782.36,881.05 781.17,880.20 780.50,879.57C779.83,878.93 779.01,877.89 778.71,877.56Z" fill="#262626"/>
</svg>
</body></html>
